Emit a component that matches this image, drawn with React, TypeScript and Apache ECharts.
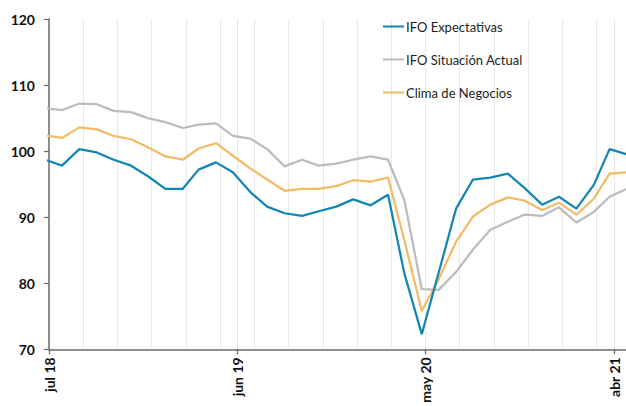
import React, { useEffect, useRef } from "react";
import * as echarts from "echarts";

// Monthly observations (Ifo publication ~24th of each month)
const monthKeys = [
  "2018-06", "2018-07", "2018-08", "2018-09", "2018-10", "2018-11", "2018-12",
  "2019-01", "2019-02", "2019-03", "2019-04", "2019-05", "2019-06", "2019-07",
  "2019-08", "2019-09", "2019-10", "2019-11", "2019-12", "2020-01", "2020-02",
  "2020-03", "2020-04", "2020-05", "2020-06", "2020-07", "2020-08", "2020-09",
  "2020-10", "2020-11", "2020-12", "2021-01", "2021-02", "2021-03", "2021-04",
];

const expectativas = [
  98.7, 97.8, 100.3, 99.8, 98.7, 97.8, 96.2,
  94.3, 94.3, 97.2, 98.3, 96.8, 93.8, 91.6,
  90.6, 90.2, 90.9, 91.6, 92.7, 91.8, 93.4,
  81.5, 72.3, 81.6, 91.3, 95.7, 96.0, 96.6,
  94.4, 91.9, 93.1, 91.3, 94.9, 100.3, 99.5,
];

const situacionActual = [
  106.5, 106.2, 107.2, 107.1, 106.1, 105.9, 105.0,
  104.4, 103.5, 104.0, 104.2, 102.3, 101.9, 100.3,
  97.7, 98.7, 97.8, 98.1, 98.7, 99.2, 98.7,
  92.6, 79.1, 79.0, 81.7, 85.1, 88.1, 89.3,
  90.4, 90.2, 91.5, 89.2, 90.8, 93.1, 94.3,
];

const climaNegocios = [
  102.4, 102.0, 103.6, 103.3, 102.3, 101.8, 100.6,
  99.2, 98.7, 100.4, 101.2, 99.3, 97.4, 95.7,
  94.0, 94.3, 94.3, 94.7, 95.6, 95.4, 96.0,
  86.5, 75.8, 80.6, 86.3, 90.1, 91.9, 93.0,
  92.5, 91.1, 92.2, 90.4, 92.8, 96.6, 96.8,
];

const seriesNames = ["IFO Expectativas", "IFO Situación Actual", "Clima de Negocios"];
const tickLabels = ["jul 18", "jun 19", "may 20", "abr 21"];

// axis in days since 1 Jul 2018; tick labels every 11 months (= 335 days)
const AXIS_START = Date.UTC(2018, 6, 1);
const DAY = 86400000;
const LABEL_STEP = 335;
const AXIS_END_DAYS = (Date.UTC(2021, 3, 24) - AXIS_START) / DAY;
const MINOR_GRID_STEP = (Date.UTC(2021, 2, 1) - AXIS_START) / DAY / 16;

const xDays = monthKeys.map((k) => {
  const [y, m] = k.split("-").map(Number);
  return (Date.UTC(y, m - 1, 24) - AXIS_START) / DAY;
});

const toPairs = (vals: number[]) => vals.map((v, i) => [xDays[i], v]);

export default function App() {
  const ref = useRef<HTMLDivElement>(null);

  useEffect(() => {
    if (!ref.current) return;
    const chart = echarts.init(ref.current, null, { renderer: "svg" });
    const font = "Lato, 'Noto Sans', sans-serif";
    chart.setOption({
      animation: false,
      backgroundColor: "#ffffff",
      grid: { left: 49, right: 640 - 627, top: 19, bottom: 54, containLabel: false },
      legend: {
        orient: "vertical",
        left: 378,
        top: 15,
        itemGap: 20,
        itemWidth: 21,
        itemHeight: 2,
        icon: "rect",
        data: seriesNames,
        textStyle: { fontFamily: font, fontSize: 13, color: "#1e1e1e", padding: [0, 0, 0, -3] },
      },
      xAxis: [
        {
          type: "value",
          min: 0,
          max: AXIS_END_DAYS,
          interval: LABEL_STEP,
          axisLine: { show: true, lineStyle: { color: "#6b6b6b", width: 1.5 } },
          axisTick: { show: true, length: 5, lineStyle: { color: "#6b6b6b", width: 1.2 } },
          splitLine: { show: true, lineStyle: { color: "#e6e6e6", width: 1 } },
          axisLabel: {
            rotate: 90,
            margin: 8,
            fontFamily: font,
            fontWeight: "bold",
            fontSize: 14,
            color: "#111",
            showMaxLabel: false,
            formatter: (v: number) => {
              const idx = Math.round(v / LABEL_STEP);
              return Math.abs(v - idx * LABEL_STEP) < 0.01 && idx < tickLabels.length ? tickLabels[idx] : "";
            },
          },
        },
        {
          type: "value",
          min: 0,
          max: AXIS_END_DAYS,
          interval: MINOR_GRID_STEP,
          position: "bottom",
          axisLine: { show: false },
          axisTick: { show: false },
          axisLabel: { show: false },
          splitLine: { show: true, lineStyle: { color: "#e9e9e9", width: 1 } },
        },
      ],
      yAxis: {
        type: "value",
        min: 70,
        max: 120,
        interval: 10,
        axisLine: { show: true, lineStyle: { color: "#6b6b6b", width: 1.5 } },
        axisTick: { show: true, length: 5, lineStyle: { color: "#6b6b6b", width: 1.2 } },
        splitLine: { show: false },
        axisLabel: {
          margin: 14,
          fontFamily: font,
          fontWeight: "bold",
          fontSize: 14,
          color: "#111",
        },
      },
      series: [
        {
          name: seriesNames[1],
          type: "line",
          xAxisIndex: 0,
          data: toPairs(situacionActual),
          symbol: "none",
          clip: true,
          itemStyle: { color: "#bcbcbc" },
          lineStyle: { color: "#bcbcbc", width: 2.25 },
        },
        {
          name: seriesNames[2],
          type: "line",
          xAxisIndex: 0,
          data: toPairs(climaNegocios),
          symbol: "none",
          clip: true,
          itemStyle: { color: "#f0bc66" },
          lineStyle: { color: "#f0bc66", width: 2.25 },
        },
        {
          name: seriesNames[0],
          type: "line",
          xAxisIndex: 0,
          data: toPairs(expectativas),
          symbol: "none",
          clip: true,
          itemStyle: { color: "#1586b4" },
          lineStyle: { color: "#1586b4", width: 2.25 },
        },
      ],
    });
    return () => chart.dispose();
  }, []);

  return (
    <div
      ref={ref}
      style={{ position: "fixed", left: 0, top: 0, width: 640, height: 406, background: "#fff" }}
    />
  );
}
